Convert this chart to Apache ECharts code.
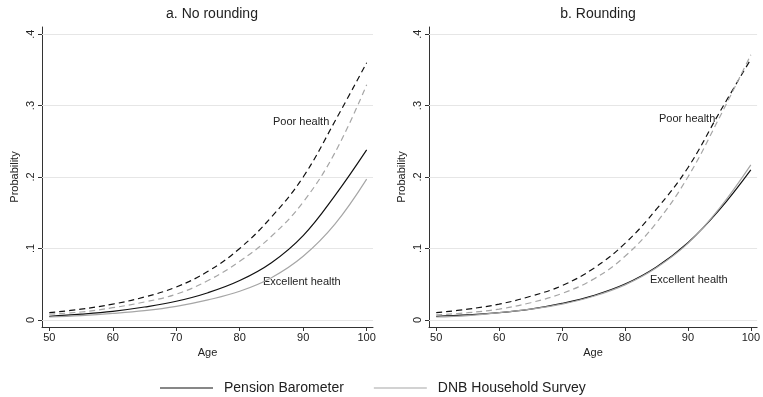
<!DOCTYPE html>
<html>
<head>
<meta charset="utf-8">
<script src="https://cdn.jsdelivr.net/npm/echarts@6/dist/echarts.min.js"></script>
<style>html,body{margin:0;padding:0;background:#fff;}#c{width:763px;height:397px;}</style>
</head>
<body>
<div id="c"></div>
<script>
const ages = [50, 55, 60, 65, 70, 75, 80, 85, 90, 95, 100];
const xTicks = [50, 60, 70, 80, 90, 100];
const yTicks = [0, 0.1, 0.2, 0.3, 0.4];
const yTickLabels = ['0', '.1', '.2', '.3', '.4'];
const panelTitles = ['a. No rounding', 'b. Rounding'];
const legendNames = ['Pension Barometer', 'DNB Household Survey'];

// a. No rounding
const aPBPoor = [0.010, 0.015, 0.022, 0.032, 0.046, 0.068, 0.100, 0.144, 0.200, 0.278, 0.360];
const aDNBPoor = [0.008, 0.011, 0.017, 0.025, 0.036, 0.055, 0.082, 0.117, 0.165, 0.234, 0.329];
const aPBExc = [0.005, 0.008, 0.012, 0.018, 0.026, 0.038, 0.055, 0.080, 0.118, 0.174, 0.238];
const aDNBExc = [0.004, 0.006, 0.009, 0.013, 0.019, 0.028, 0.040, 0.059, 0.089, 0.134, 0.197];
// b. Rounding
const bPBPoor = [0.010, 0.015, 0.022, 0.033, 0.048, 0.072, 0.107, 0.155, 0.213, 0.290, 0.365];
const bDNBPoor = [0.007, 0.010, 0.015, 0.024, 0.037, 0.057, 0.089, 0.136, 0.200, 0.283, 0.371];
const bPBExc = [0.005, 0.007, 0.010, 0.015, 0.023, 0.034, 0.050, 0.074, 0.108, 0.154, 0.210];
const bDNBExc = [0.004, 0.006, 0.010, 0.015, 0.022, 0.033, 0.049, 0.073, 0.107, 0.156, 0.217];

const FONT = '"Liberation Sans", Arial, Helvetica, sans-serif';
const TXT = '#222';
const pair = arr => ages.map((a, i) => [a, arr[i]]);

function xAxisFor(i) {
  return {
    gridIndex: i, type: 'value', min: 48.85, max: 101,
    name: 'Age', nameLocation: 'middle', nameGap: 19,
    nameTextStyle: { fontFamily: FONT, fontSize: 11, color: TXT },
    axisLine: { show: true, onZero: false, lineStyle: { color: '#333', width: 1 } },
    axisTick: { show: true, length: 4, customValues: xTicks, lineStyle: { color: '#333' } },
    axisLabel: { customValues: xTicks, fontFamily: FONT, fontSize: 11, color: TXT, margin: 5 },
    splitLine: { show: false }
  };
}
function yAxisFor(i) {
  return {
    gridIndex: i, type: 'value', min: -0.01, max: 0.41,
    name: 'Probability', nameLocation: 'middle', nameGap: 22, nameRotate: 90,
    nameTextStyle: { fontFamily: FONT, fontSize: 11, color: TXT },
    axisLine: { show: true, onZero: false, lineStyle: { color: '#333', width: 1 } },
    axisTick: { show: true, length: 4, customValues: yTicks, lineStyle: { color: '#333' } },
    axisLabel: {
      customValues: yTicks, rotate: 90, fontFamily: FONT, fontSize: 11, color: TXT, margin: 6,
      formatter: v => { const k = yTicks.findIndex(t => Math.abs(t - v) < 1e-9); return k >= 0 ? yTickLabels[k] : ''; }
    },
    splitLine: { show: false }
  };
}
function lineSeries(name, data, idx, color, dashed, withGrid) {
  const s = {
    name: name, type: 'line', xAxisIndex: idx, yAxisIndex: idx,
    data: pair(data), smooth: 0.4, symbol: 'none', showSymbol: false,
    lineStyle: { color: color, width: 1.2, type: dashed ? [6, 4] : 'solid' },
    itemStyle: { color: color }, z: 3, silent: true
  };
  if (withGrid) {
    s.markLine = {
      silent: true, symbol: ['none', 'none'], label: { show: false }, z: 1,
      lineStyle: { color: '#e6e6e6', width: 1, type: 'solid' },
      data: yTicks.map(t => ({ yAxis: t }))
    };
  }
  return s;
}

const BLACK = '#111';
const GRAY = '#a6a6a6';

const chart = echarts.init(document.getElementById('c'), null, { renderer: 'canvas' });
chart.setOption({
  animation: false,
  backgroundColor: '#fff',
  title: [
    { text: panelTitles[0], left: 207, top: 2, textAlign: 'center', textStyle: { fontFamily: FONT, fontSize: 14, fontWeight: 'normal', color: TXT } },
    { text: panelTitles[1], left: 593, top: 2, textAlign: 'center', textStyle: { fontFamily: FONT, fontSize: 14, fontWeight: 'normal', color: TXT } }
  ],
  grid: [
    { left: 42, right: 390, top: 27, bottom: 70 },
    { left: 429, right: 3, top: 27, bottom: 70 }
  ],
  xAxis: [xAxisFor(0), xAxisFor(1)],
  yAxis: [yAxisFor(0), yAxisFor(1)],
  legend: {
    data: legendNames, top: 381, left: 160, padding: 0, itemWidth: 53, itemHeight: 12, itemGap: 30,
    icon: 'path://M0,5.5 L53,5.5 L53,6.7 L0,6.7 Z',
    textStyle: { fontFamily: FONT, fontSize: 14, color: TXT, padding: [0, 0, 0, 6] },
    selectedMode: false
  },
  series: [
    lineSeries(legendNames[0], aPBExc, 0, BLACK, false, true),
    lineSeries(legendNames[1], aDNBExc, 0, GRAY, false, false),
    lineSeries('PB poor a', aPBPoor, 0, BLACK, true, false),
    lineSeries('DNB poor a', aDNBPoor, 0, GRAY, true, false),
    lineSeries(legendNames[0], bPBExc, 1, BLACK, false, true),
    lineSeries(legendNames[1], bDNBExc, 1, GRAY, false, false),
    lineSeries('PB poor b', bPBPoor, 1, BLACK, true, false),
    lineSeries('DNB poor b', bDNBPoor, 1, GRAY, true, false)
  ],
  graphic: [
    { type: 'text', left: 273, top: 116, style: { text: 'Poor health', font: '11px ' + FONT, fill: TXT } },
    { type: 'text', left: 263, top: 276, style: { text: 'Excellent health', font: '11px ' + FONT, fill: TXT } },
    { type: 'text', left: 659, top: 113, style: { text: 'Poor health', font: '11px ' + FONT, fill: TXT } },
    { type: 'text', left: 650, top: 274, style: { text: 'Excellent health', font: '11px ' + FONT, fill: TXT } }
  ]
});
</script>
</body>
</html>
